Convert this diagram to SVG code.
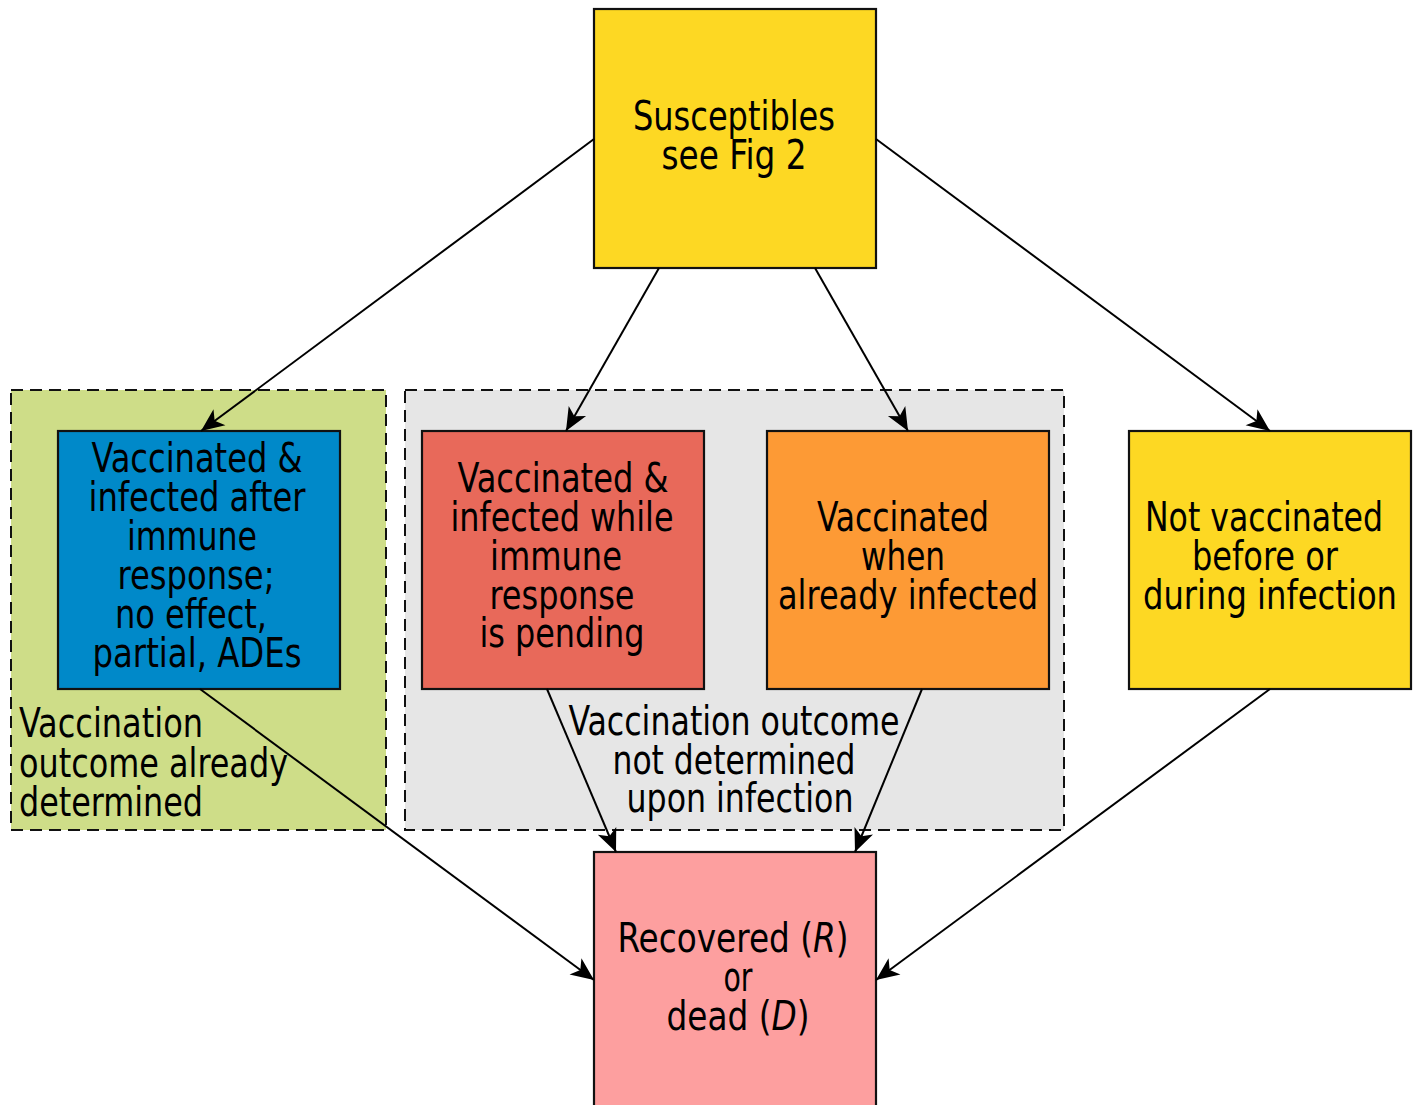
<svg xmlns="http://www.w3.org/2000/svg" width="1416" height="1105" viewBox="0 0 1416 1105">
<style>
.box{stroke:#111;stroke-width:2.2}
.grp{stroke:#111;stroke-width:2;stroke-dasharray:12,7}
text{font-family:"DejaVu Sans Condensed","DejaVu Sans",sans-serif;font-size:40px;fill:#000}
.c{text-anchor:middle}
.con{stroke:#000;stroke-width:2;fill:none;marker-end:url(#arr)}
</style>
<defs>
<marker id="arr" viewBox="-24 -11 26 22" markerWidth="26" markerHeight="22" refX="0" refY="0" orient="auto" markerUnits="userSpaceOnUse">
<path d="M0,0 L-23,-10 L-17,0 L-23,10 z" fill="#000"/>
</marker>
</defs>
<rect width="1416" height="1105" fill="#fff"/>
<g id="group-determined">
<rect class="grp" x="11" y="390" width="375" height="440" fill="#cedd88"/>
<text x="19" y="737" textLength="184" lengthAdjust="spacingAndGlyphs">Vaccination</text>
<text x="19" y="777" textLength="269" lengthAdjust="spacingAndGlyphs">outcome already</text>
<text x="19" y="816" textLength="184" lengthAdjust="spacingAndGlyphs">determined</text>
</g>
<g id="group-notdetermined">
<rect class="grp" x="405" y="390" width="659" height="440" fill="#e6e6e6"/>
<text class="c" x="734" y="735" textLength="331" lengthAdjust="spacingAndGlyphs">Vaccination outcome</text>
<text class="c" x="734" y="774" textLength="243" lengthAdjust="spacingAndGlyphs">not determined</text>
<text class="c" x="740" y="812" textLength="227" lengthAdjust="spacingAndGlyphs">upon infection</text>
</g>
<g id="susceptibles">
<rect class="box" x="594" y="9" width="282" height="259" fill="#fdd823"/>
<text class="c" x="734" y="130" textLength="202" lengthAdjust="spacingAndGlyphs">Susceptibles</text>
<text class="c" x="734" y="169" textLength="145" lengthAdjust="spacingAndGlyphs">see Fig 2</text>
</g>
<g id="vacc-after">
<rect class="box" x="58" y="431" width="282" height="258" fill="#0089c9"/>
<text class="c" x="197" y="472" textLength="211" lengthAdjust="spacingAndGlyphs">Vaccinated &amp;</text>
<text class="c" x="197" y="511" textLength="217" lengthAdjust="spacingAndGlyphs">infected after</text>
<text class="c" x="192" y="550" textLength="130" lengthAdjust="spacingAndGlyphs">immune</text>
<text class="c" x="196" y="589" textLength="157" lengthAdjust="spacingAndGlyphs">response;</text>
<text class="c" x="191" y="628" textLength="152" lengthAdjust="spacingAndGlyphs">no effect,</text>
<text class="c" x="197" y="667" textLength="209" lengthAdjust="spacingAndGlyphs">partial, ADEs</text>
</g>
<g id="vacc-pending">
<rect class="box" x="422" y="431" width="282" height="258" fill="#e8695a"/>
<text class="c" x="563" y="492" textLength="211" lengthAdjust="spacingAndGlyphs">Vaccinated &amp;</text>
<text class="c" x="562" y="531" textLength="223" lengthAdjust="spacingAndGlyphs">infected while</text>
<text class="c" x="556" y="570" textLength="132" lengthAdjust="spacingAndGlyphs">immune</text>
<text class="c" x="562" y="609" textLength="145" lengthAdjust="spacingAndGlyphs">response</text>
<text class="c" x="562" y="647" textLength="165" lengthAdjust="spacingAndGlyphs">is pending</text>
</g>
<g id="vacc-infected">
<rect class="box" x="767" y="431" width="282" height="258" fill="#fd9a35"/>
<text class="c" x="903" y="531" textLength="172" lengthAdjust="spacingAndGlyphs">Vaccinated</text>
<text class="c" x="903" y="570" textLength="84" lengthAdjust="spacingAndGlyphs">when</text>
<text class="c" x="908" y="609" textLength="260" lengthAdjust="spacingAndGlyphs">already infected</text>
</g>
<g id="not-vacc">
<rect class="box" x="1129" y="431" width="282" height="258" fill="#fdd823"/>
<text class="c" x="1264" y="531" textLength="238" lengthAdjust="spacingAndGlyphs">Not vaccinated</text>
<text class="c" x="1265" y="570" textLength="146" lengthAdjust="spacingAndGlyphs">before or</text>
<text class="c" x="1270" y="609" textLength="254" lengthAdjust="spacingAndGlyphs">during infection</text>
</g>
<g id="recovered">
<rect class="box" x="594" y="852" width="282" height="260" fill="#fd9f9f"/>
<text class="c" x="733" y="952" textLength="231" lengthAdjust="spacingAndGlyphs">Recovered (<tspan font-style="italic">R</tspan>)</text>
<text class="c" x="738" y="991" textLength="29" lengthAdjust="spacingAndGlyphs">or</text>
<text class="c" x="738" y="1030" textLength="143" lengthAdjust="spacingAndGlyphs">dead (<tspan font-style="italic">D</tspan>)</text>
</g>
<g id="connectors">
<line class="con" x1="594" y1="139" x2="201" y2="431"/>
<line class="con" x1="659" y1="268" x2="566" y2="431"/>
<line class="con" x1="815" y1="268" x2="908" y2="431"/>
<line class="con" x1="876" y1="139" x2="1270" y2="431"/>
<line class="con" x1="200" y1="689" x2="594" y2="980"/>
<line class="con" x1="547" y1="689" x2="616" y2="852"/>
<line class="con" x1="922" y1="689" x2="855" y2="852"/>
<line class="con" x1="1270" y1="689" x2="876" y2="980"/>
</g>
</svg>
